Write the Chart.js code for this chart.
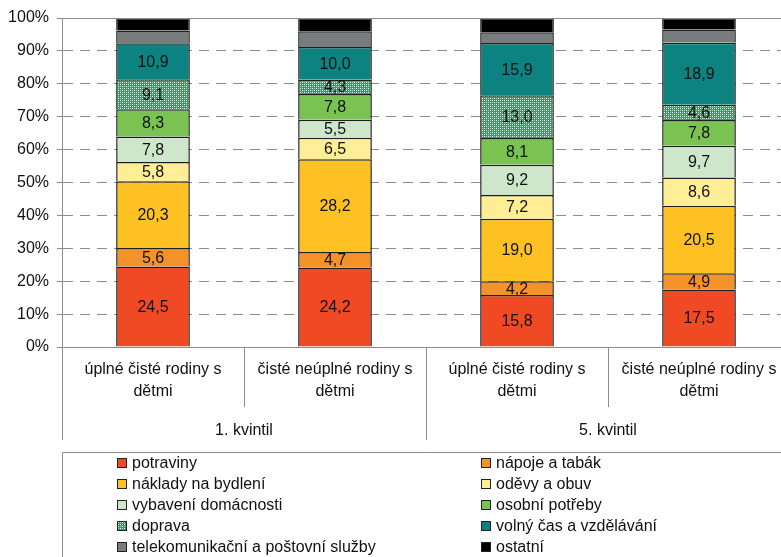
<!DOCTYPE html>
<html>
<head>
<meta charset="utf-8">
<script src="https://cdn.jsdelivr.net/npm/chart.js"></script>
<style>
  html, body { margin: 0; padding: 0; background: #fff; overflow: hidden; }
  #wrap { width: 790px; height: 557px; }
</style>
</head>
<body>
<div id="wrap"><canvas id="chart"></canvas></div>
<script>
// kategorie a skupiny na ose x
const categories = [
  ['úplné čisté rodiny s', 'dětmi'],
  ['čisté neúplné rodiny s', 'dětmi'],
  ['úplné čisté rodiny s', 'dětmi'],
  ['čisté neúplné rodiny s', 'dětmi']
];
const groups = ['1. kvintil', '5. kvintil'];
const yTicks = [0, 10, 20, 30, 40, 50, 60, 70, 80, 90, 100];

// struktura výdajů (%)
const potraviny = [24.5, 24.2, 15.8, 17.5];
const napoje = [5.6, 4.7, 4.2, 4.9];
const bydleni = [20.3, 28.2, 19.0, 20.5];
const odevy = [5.8, 6.5, 7.2, 8.6];
const vybaveni = [7.8, 5.5, 9.2, 9.7];
const osobni = [8.3, 7.8, 8.1, 7.8];
const doprava = [9.1, 4.3, 13.0, 4.6];
const volnyCas = [10.9, 10.0, 15.9, 18.9];
const telekom = [3.9, 4.8, 3.3, 4.0];
const ostatni = [3.8, 4.0, 4.3, 3.5];

// vzorek pro dopravu
function makePattern() {
  const c = document.createElement('canvas');
  c.width = 4; c.height = 4;
  const p = c.getContext('2d');
  p.fillStyle = '#339e63';
  p.fillRect(0, 0, 4, 4);
  p.fillStyle = '#ffffff';
  p.fillRect(0, 0, 1, 1);
  p.fillRect(2, 2, 1, 1);
  p.fillStyle = '#a6dab8';
  p.fillRect(2, 0, 1, 1);
  p.fillRect(0, 2, 1, 1);
  return p.createPattern(c, 'repeat');
}
const dopravaFill = makePattern();

const series = [
  { label: 'potraviny', data: potraviny, color: '#f04a24', showValue: true },
  { label: 'nápoje a tabák', data: napoje, color: '#f39229', showValue: true },
  { label: 'náklady na bydlení', data: bydleni, color: '#fdc124', showValue: true },
  { label: 'oděvy a obuv', data: odevy, color: '#ffee96', showValue: true },
  { label: 'vybavení domácnosti', data: vybaveni, color: '#cee6ca', showValue: true },
  { label: 'osobní potřeby', data: osobni, color: '#7ac252', showValue: true },
  { label: 'doprava', data: doprava, color: dopravaFill, showValue: true },
  { label: 'volný čas a vzdělávání', data: volnyCas, color: '#0c8380', showValue: true },
  { label: 'telekomunikační a poštovní služby', data: telekom, color: '#787c7d', showValue: false },
  { label: 'ostatní', data: ostatni, color: '#000000', showValue: false }
];

const axisColor = '#8c8c8c';
const font = '16px "Liberation Sans", Arial, sans-serif';

const extras = {
  id: 'extras',
  afterDatasetsDraw(chart) {
    const ctx = chart.ctx;
    // hodnoty v pruzích
    ctx.save();
    ctx.font = font;
    ctx.fillStyle = '#111';
    ctx.textAlign = 'center';
    ctx.textBaseline = 'middle';
    chart.data.datasets.forEach((ds, i) => {
      if (!series[i].showValue) return;
      chart.getDatasetMeta(i).data.forEach((bar, j) => {
        const v = ds.data[j];
        ctx.fillText(v.toFixed(1).replace('.', ','), bar.x, (bar.y + bar.base) / 2 + 1);
      });
    });
    ctx.restore();
  },
  afterDraw(chart) {
    const ctx = chart.ctx;
    const area = chart.chartArea;
    const x = chart.scales.x;
    const step = x.getPixelForValue(1) - x.getPixelForValue(0);
    const bottom = area.bottom;
    ctx.save();
    ctx.strokeStyle = axisColor;
    ctx.lineWidth = 1;
    // horní okraj
    ctx.beginPath();
    ctx.moveTo(area.left, Math.round(area.top) + 0.5);
    ctx.lineTo(area.right, Math.round(area.top) + 0.5);
    ctx.stroke();
    // dělicí čáry pod osou
    for (let i = 0; i <= categories.length; i++) {
      const px = Math.round(x.getPixelForValue(i) - step / 2) + 0.5;
      const len = (i % 2 === 0) ? 93 : 60;
      ctx.beginPath();
      ctx.moveTo(px, bottom);
      ctx.lineTo(px, bottom + len);
      ctx.stroke();
    }
    // popisky kategorií
    ctx.font = font;
    ctx.fillStyle = '#111';
    ctx.textAlign = 'center';
    ctx.textBaseline = 'middle';
    categories.forEach((lines, i) => {
      const cx = x.getPixelForValue(i);
      lines.forEach((t, k) => ctx.fillText(t, cx, bottom + 23 + k * 22));
    });
    groups.forEach((g, k) => {
      const cx = (x.getPixelForValue(k * 2) + x.getPixelForValue(k * 2 + 1)) / 2;
      ctx.fillText(g, cx, bottom + 84);
    });
    // legenda
    const boxTop = Math.round(bottom + 105) + 0.5;
    ctx.beginPath();
    ctx.moveTo(area.left + 0.5, chart.height + 2);
    ctx.lineTo(area.left + 0.5, boxTop);
    ctx.lineTo(chart.width + 2, boxTop);
    ctx.stroke();
    ctx.font = '16px "Liberation Sans", Arial, sans-serif';
    ctx.textAlign = 'left';
    series.forEach((s, i) => {
      const col = i % 2;
      const row = Math.floor(i / 2);
      const sx = col === 0 ? 117 : 481;
      const cy = Math.round(boxTop + 10 + row * 21);
      ctx.fillStyle = s.color;
      ctx.fillRect(sx, cy - 5, 10, 10);
      ctx.strokeStyle = '#222';
      ctx.strokeRect(sx + 0.5, cy - 4.5, 9, 9);
      ctx.fillStyle = '#111';
      ctx.fillText(s.label, sx + 15, cy + 1);
    });
    ctx.restore();
  }
};

new Chart(document.getElementById('chart'), {
  type: 'bar',
  data: {
    labels: categories.map(c => c.join(' ')),
    datasets: series.map(s => ({
      label: s.label,
      data: s.data,
      backgroundColor: s.color,
      borderColor: '#1f1f1f',
      borderWidth: 1.5,
      categoryPercentage: 0.405,
      barPercentage: 1
    }))
  },
  options: {
    responsive: true,
    maintainAspectRatio: false,
    animation: false,
    layout: { padding: { top: 18, left: 0, right: 0, bottom: 210 } },
    plugins: {
      legend: { display: false },
      tooltip: { enabled: false }
    },
    scales: {
      x: {
        stacked: true,
        grid: { display: false },
        ticks: { display: false },
        afterFit: scale => { scale.height = 0; },
        border: { color: axisColor, width: 1 }
      },
      y: {
        stacked: true,
        min: 0,
        max: 100,
        afterBuildTicks: scale => { scale.ticks = yTicks.map(v => ({ value: v })); },
        afterFit: scale => { scale.width = 62; },
        ticks: {
          font: { family: '"Liberation Sans", Arial, sans-serif', size: 16 },
          color: '#111',
          padding: 8,
          callback: v => v + '%'
        },
        grid: {
          color: c => (c.tick.value === 0 || c.tick.value === 100) ? 'rgba(0,0,0,0)' : axisColor,
          tickColor: axisColor,
          tickLength: 5,
          tickBorderDash: [],
          lineWidth: 1
        },
        border: { color: axisColor, width: 1, dash: [10, 7] }
      }
    }
  },
  plugins: [extras]
});
</script>
</body>
</html>
